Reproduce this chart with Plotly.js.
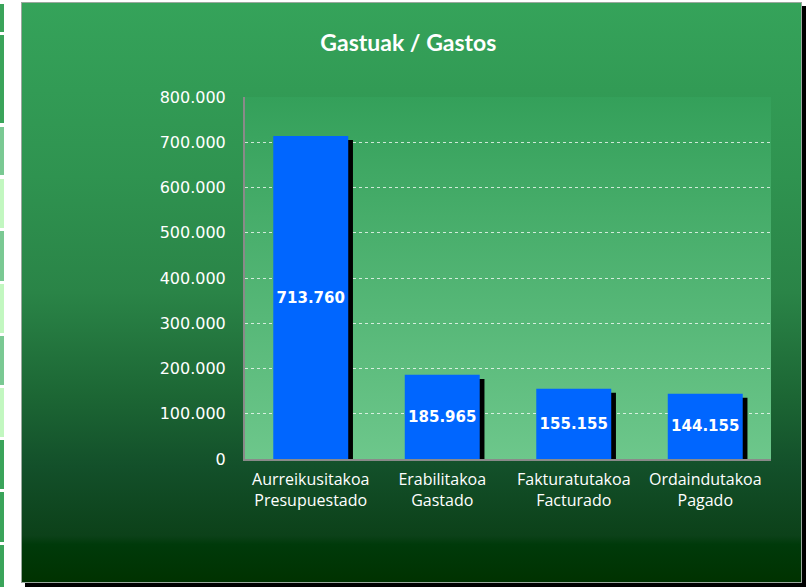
<!DOCTYPE html>
<html>
<head>
<meta charset="utf-8">
<script src="https://cdn.plot.ly/plotly-3.0.1.min.js"></script>
<style>
  html, body { margin: 0; padding: 0; background: #ffffff; width: 807px; height: 587px; overflow: hidden; }
  #frame {
    position: absolute; left: 21px; top: 2px; width: 779px; height: 579px;
    border: 1px solid #9aa89e;
    background: linear-gradient(to bottom, #35a35a 0%, #2f9350 30%, #2a8447 50%, #1c6634 68%, #13502a 80%, #0c4119 92%, #003a0a 93.5%, #003200 100%);
    box-shadow: 4px 4px 0 #000;
  }
  #strip { position: absolute; left: 0; top: 0; width: 4px; height: 587px; }
  #strip div { position: absolute; left: 0; width: 4px; }
  #chart { position: absolute; left: 0; top: 0; width: 807px; height: 587px; }
</style>
</head>
<body>
<div id="strip"></div>
<div id="frame"></div>
<div id="chart"></div>
<script>
// ---- data ----
const categories = ['Aurreikusitakoa<br>Presupuestado', 'Erabilitakoa<br>Gastado', 'Fakturatutakoa<br>Facturado', 'Ordaindutakoa<br>Pagado'];
const values = [713760, 185965, 155155, 144155];
const yTickValues = [0, 100000, 200000, 300000, 400000, 500000, 600000, 700000, 800000];
const chartTitle = 'Gastuak / Gastos';

// decorative strip at the left edge
const stripSegments = [
  [4, 32, '#3aa45a'], [35, 123, '#3aa45a'], [127, 175, '#7ac993'], [179, 228, '#c2f7c0'],
  [231, 281, '#7ac993'], [284, 333, '#c2f7c0'], [336, 385, '#7ac993'], [388, 437, '#c2f7c0'],
  [440, 489, '#3aa45a'], [492, 542, '#3aa45a'], [545, 587, '#3aa45a']
];
const strip = document.getElementById('strip');
stripSegments.forEach(s => {
  const d = document.createElement('div');
  d.style.top = s[0] + 'px'; d.style.height = (s[1] - s[0]) + 'px'; d.style.background = s[2];
  strip.appendChild(d);
});

const barWidth = 0.57;
const shadowDx = 0.036;   // category units
const shadowDy = 9000;    // value units

const gradSvg = '<svg xmlns="http://www.w3.org/2000/svg" width="100" height="100" preserveAspectRatio="none">' +
  '<defs><linearGradient id="g" x1="0" y1="0" x2="0" y2="1">' +
  '<stop offset="0" stop-color="#34a05a"/><stop offset="1" stop-color="#6dc78b"/></linearGradient></defs>' +
  '<rect width="100" height="100" fill="url(#g)"/></svg>';
const gradUri = 'data:image/svg+xml;base64,' + btoa(gradSvg);

const shadow = {
  type: 'bar', x: categories, y: values,
  base: values.map(() => -shadowDy),
  width: barWidth, offset: -barWidth / 2 + shadowDx,
  marker: { color: '#000000' }, hoverinfo: 'skip', showlegend: false
};
const bars = {
  type: 'bar', x: categories, y: values,
  width: barWidth, offset: -barWidth / 2,
  marker: { color: '#0066ff' },
  texttemplate: '%{y:,}', textposition: 'inside', insidetextanchor: 'middle',
  constraintext: 'none', textangle: 0,
  textfont: { family: 'DejaVu Sans', size: 15, color: '#ffffff', weight: 'bold' },
  showlegend: false
};

const layout = {
  width: 807, height: 587,
  margin: { l: 245, r: 36, t: 97, b: 128 },
  paper_bgcolor: 'rgba(0,0,0,0)',
  plot_bgcolor: 'rgba(0,0,0,0)',
  separators: ',.',
  barmode: 'overlay',
  title: {
    text: '<b>' + chartTitle + '</b>',
    font: { family: 'Lato', size: 23, color: '#ffffff' },
    x: 0.506, xanchor: 'center', y: 0.927, yanchor: 'middle'
  },
  images: [{
    source: gradUri, xref: 'paper', yref: 'paper', x: 0, y: 1, sizex: 1, sizey: 1,
    xanchor: 'left', yanchor: 'top', sizing: 'stretch', layer: 'below'
  }],
  xaxis: {
    type: 'category',
    showgrid: false, zeroline: false,
    showline: true, linecolor: '#8a8a8a', linewidth: 2,
    ticks: '', ticklabelstandoff: 5,
    tickfont: { family: 'Open Sans', size: 16, color: '#ffffff' }
  },
  yaxis: {
    range: [0, 800000],
    tickvals: yTickValues, tickformat: ',',
    showgrid: true, gridcolor: 'rgba(255,255,255,0.75)', griddash: 'dot', gridwidth: 1,
    zeroline: false,
    showline: true, linecolor: '#8a8a8a', linewidth: 2,
    ticks: '', ticklabelstandoff: 14,
    tickfont: { family: 'DejaVu Sans', size: 16, color: '#ffffff' }
  },
  font: { family: 'Lato', color: '#ffffff' }
};

Plotly.newPlot('chart', [shadow, bars], layout, { displayModeBar: false, staticPlot: true });
</script>
</body>
</html>
